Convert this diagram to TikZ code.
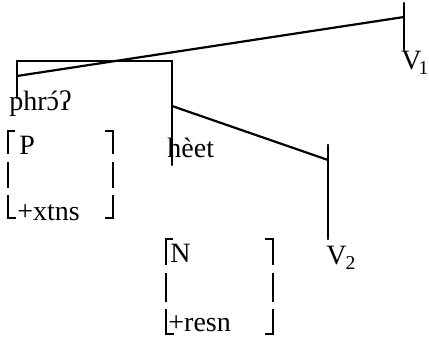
\documentclass[tikz,border=0pt]{standalone}
\usepackage{fontspec}
\setmainfont{Liberation Serif}
\usetikzlibrary{positioning}

\begin{document}
\begin{tikzpicture}[x=0.5pt, y=-0.5pt,
    branch/.style={line width=1.1pt, line cap=round},
    brk/.style={line width=0.75pt},
    word/.style={font={\fontsize{14pt}{16pt}\selectfont}, inner sep=0pt, anchor=base west}]
    \useasboundingbox (0,0) rectangle (429,340);
    % skeleton points
    \coordinate (v1top)  at (404,3);
    \coordinate (v1mid)  at (404,17);
    \coordinate (v1foot) at (404,50);
    \coordinate (lcorner) at (17,61);
    \coordinate (ljoin)  at (17,76);
    \coordinate (lfoot)  at (17,98);
    \coordinate (rcorner) at (172,61);
    \coordinate (rjoin)  at (172,106);
    \coordinate (rfoot)  at (172,165);
    \coordinate (v2top)  at (328,145);
    \coordinate (v2mid)  at (328,160);
    \coordinate (v2foot) at (328,239);

    % lines of the tree
    \draw[branch] (v1top) -- (v1foot);
    \draw[branch] (v1mid) -- (ljoin);
    \draw[branch] (lfoot) -- (lcorner) -- (rcorner) -- (rfoot);
    \draw[branch] (rjoin) -- (v2mid);
    \draw[branch] (v2top) -- (v2foot);

    % words
    \node[word] (phro) at (9,111) {phr\ooalign{ɔ\cr\hidewidth\kern1pt ´\hidewidth\cr}ʔ};
    \node[word] (heet) at (167,158) {hèet};
    \node[word] (v1) at (401,70) {V\kern-1.5pt\textsubscript{1}};
    \node[word] (v2) at (326,265) {V\kern-0.5pt\textsubscript{2}};

    % feature matrices
    \node[word] (pcat)  at (19,155) {P};
    \node[word] (pfeat) at (17,221) {+xtns};
    \node[word] (ncat)  at (170,263) {N};
    \node[word] (nfeat) at (168,332) {+resn};

    % broken brackets: left x / right x / top y / bottom y
    \foreach \lx/\rx/\ty/\by in {8/113/131/218, 166/273/239/334}{
        \pgfmathsetmacro{\ma}{\ty+0.27*(\by-\ty)}
        \pgfmathsetmacro{\mb}{\ty+0.36*(\by-\ty)}
        \pgfmathsetmacro{\mc}{\ty+0.66*(\by-\ty)}
        \pgfmathsetmacro{\md}{\ty+0.74*(\by-\ty)}
        \draw[brk] (\lx+7,\ty) -- (\lx,\ty) -- (\lx,\ma);
        \draw[brk] (\lx,\mb) -- (\lx,\mc);
        \draw[brk] (\lx,\md) -- (\lx,\by) -- (\lx+8,\by);
        \draw[brk] (\rx-8,\ty) -- (\rx,\ty) -- (\rx,\ma);
        \draw[brk] (\rx,\mb) -- (\rx,\mc);
        \draw[brk] (\rx,\md) -- (\rx,\by) -- (\rx-8,\by);
    }
\end{tikzpicture}
\end{document}
